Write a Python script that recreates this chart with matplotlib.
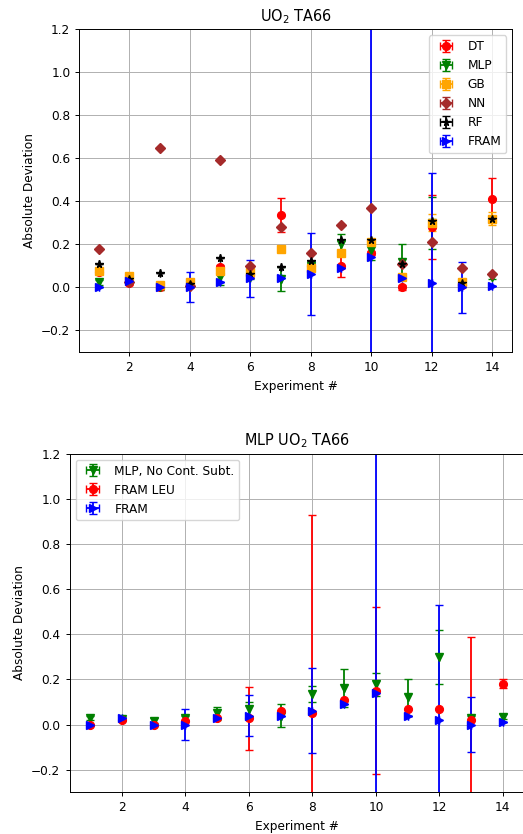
import numpy as np
import matplotlib
matplotlib.use("Agg")
import matplotlib.pyplot as plt

exp = np.arange(1, 15)

# top panel: model deviations
dt = [0.07, 0.02, 0.0, 0.01, 0.096, 0.06, 0.336, 0.10, 0.10, 0.16, 0.0, 0.28, 0.01, 0.41]
dt_err = [0.01, 0.01, 0.01, 0.01, 0.01, 0.01, 0.08, 0.01, 0.05, 0.01, 0.01, 0.15, 0.01, 0.10]
mlp = [0.023, 0.03, 0.0, 0.01, 0.05, 0.05, 0.04, 0.10, 0.20, 0.175, 0.12, 0.30, 0.01, 0.05]
mlp_err = [0.01, 0.01, 0.01, 0.01, 0.04, 0.01, 0.055, 0.01, 0.05, 0.05, 0.08, 0.12, 0.01, 0.01]
gb = [0.076, 0.053, 0.01, 0.026, 0.078, 0.07, 0.178, 0.09, 0.158, 0.21, 0.05, 0.30, 0.026, 0.32]
gb_err = [0.01, 0.01, 0.01, 0.01, 0.01, 0.01, 0.015, 0.01, 0.01, 0.01, 0.01, 0.04, 0.01, 0.03]
nn = [0.177, 0.026, 0.65, 0.008, 0.59, 0.10, 0.28, 0.16, 0.29, 0.37, 0.11, 0.21, 0.09, 0.062]
rf = [0.11, 0.039, 0.068, 0.018, 0.138, 0.06, 0.096, 0.121, 0.22, 0.22, 0.11, 0.307, 0.02, 0.32]
fram = [0.0, 0.03, 0.0, 0.0, 0.026, 0.042, 0.042, 0.062, 0.09, 0.14, 0.043, 0.02, 0.0, 0.008]
fram_err = [0.0, 0.0, 0.0, 0.07, 0.0, 0.085, 0.0, 0.19, 0.0, 1.6, 0.0, 0.51, 0.12, 0.0]

# bottom panel
mlp_nc = [0.03, 0.025, 0.018, 0.03, 0.05, 0.07, 0.04, 0.135, 0.163, 0.178, 0.12, 0.30, 0.03, 0.035]
mlp_nc_err = [0.01, 0.01, 0.01, 0.01, 0.03, 0.03, 0.05, 0.035, 0.085, 0.05, 0.08, 0.12, 0.01, 0.01]
fram_leu = [0.0, 0.02, 0.0, 0.015, 0.03, 0.028, 0.062, 0.05, 0.11, 0.15, 0.07, 0.07, 0.02, 0.18]
fram_leu_err = [0.0, 0.0, 0.0, 0.0, 0.0, 0.14, 0.0, 0.88, 0.0, 0.37, 0.0, 0.0, 0.37, 0.02]
fram2 = [0.0, 0.028, 0.0, 0.0, 0.03, 0.04, 0.04, 0.062, 0.089, 0.142, 0.04, 0.02, 0.0, 0.01]
fram2_err = [0.0, 0.0, 0.0, 0.07, 0.0, 0.09, 0.0, 0.19, 0.0, 1.6, 0.0, 0.51, 0.12, 0.0]

# the reference looks like default figures shrunk a bit
s = 0.87
plt.rcParams.update({
    "font.size": 10 * s,
    "axes.titlesize": 12 * s,
    "lines.markersize": 6 * 0.93,
    "lines.linewidth": 1.5 * s,
    "axes.linewidth": 0.8 * s,
    "grid.linewidth": 0.8 * s,
    "xtick.major.size": 3.5 * s,
    "ytick.major.size": 3.5 * s,
    "xtick.major.width": 0.8 * s,
    "ytick.major.width": 0.8 * s,
})
cs = 3 * s

fig = plt.figure(figsize=(5.23, 8.34), dpi=100)

ax1 = fig.add_axes([0.152, 0.578, 0.827, 0.387])
ax1.errorbar(exp, dt, yerr=dt_err, xerr=0, fmt="o", color="red", capsize=cs, label="DT")
ax1.errorbar(exp, mlp, yerr=mlp_err, xerr=0, fmt="v", color="green", capsize=cs, label="MLP")
ax1.errorbar(exp, gb, yerr=gb_err, xerr=0, fmt="s", color="orange", capsize=cs, label="GB")
ax1.errorbar(exp, nn, yerr=0, xerr=0, fmt="D", color="brown", capsize=cs, label="NN")
ax1.errorbar(exp, rf, yerr=0, xerr=0, fmt="*", color="black", capsize=cs, label="RF")
ax1.errorbar(exp, fram, yerr=fram_err, xerr=0, fmt=">", color="blue", capsize=cs, label="FRAM")
ax1.set_xlim(0.35, 14.65)
ax1.set_ylim(-0.3, 1.2)
ax1.set_title("UO$_2$ TA66")
ax1.set_xlabel("Experiment #")
ax1.set_ylabel("Absolute Deviation")
ax1.grid(True)
ax1.legend(loc="upper right")

ax2 = fig.add_axes([0.133, 0.050, 0.868, 0.406])
ax2.errorbar(exp, mlp_nc, yerr=mlp_nc_err, xerr=0, fmt="v", color="green", capsize=cs,
             label="MLP, No Cont. Subt.")
ax2.errorbar(exp, fram_leu, yerr=fram_leu_err, xerr=0, fmt="o", color="red", capsize=cs,
             label="FRAM LEU")
ax2.errorbar(exp, fram2, yerr=fram2_err, xerr=0, fmt=">", color="blue", capsize=cs, label="FRAM")
ax2.set_xlim(0.35, 14.65)
ax2.set_ylim(-0.3, 1.2)
ax2.set_title("MLP UO$_2$ TA66")
ax2.set_xlabel("Experiment #")
ax2.set_ylabel("Absolute Deviation")
ax2.grid(True)
ax2.legend(loc="upper left")

fig.savefig("out.png", dpi=100)
